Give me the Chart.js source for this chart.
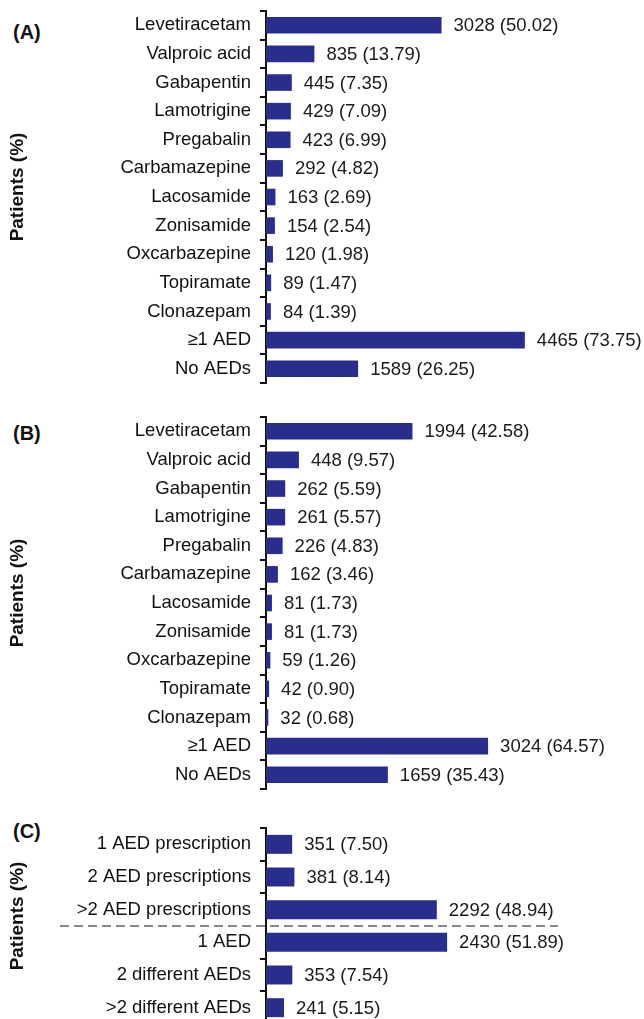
<!DOCTYPE html>
<html lang="en">
<head>
<meta charset="UTF-8">
<title>AED use by panel</title>
<script src="https://cdn.jsdelivr.net/npm/chart.js"></script>
<style>
  html, body { margin: 0; padding: 0; background: #fff; overflow: hidden; }
  #page {
    position: relative;
    width: 644px;
    height: 1019px;
    overflow: hidden;
    font-family: "Liberation Sans", Arial, sans-serif;
  }
  .panel { position: absolute; left: 0; width: 644px; }
  .tag {
    position: absolute;
    left: 13px;
    font-weight: bold;
    font-size: 20px;
    line-height: 20px;
    color: #111;
  }
</style>
</head>
<body>
<div id="page">
  <div class="tag" style="top:22px">(A)</div>
  <div class="tag" style="top:423px">(B)</div>
  <div class="tag" style="top:821px">(C)</div>
  <div class="panel" style="top:0;height:395px"><canvas id="chartA"></canvas></div>
  <div class="panel" style="top:400px;height:400px"><canvas id="chartB"></canvas></div>
  <div class="panel" style="top:805px;height:230px"><canvas id="chartC"></canvas></div>
</div>
<script>
const drugLabels = ["Levetiracetam", "Valproic acid", "Gabapentin", "Lamotrigine", "Pregabalin",
  "Carbamazepine", "Lacosamide", "Zonisamide", "Oxcarbazepine", "Topiramate", "Clonazepam",
  "\u22651 AED", "No AEDs"];

// panel A
const aCounts = [3028, 835, 445, 429, 423, 292, 163, 154, 120, 89, 84, 4465, 1589];
const aPct = [50.02, 13.79, 7.35, 7.09, 6.99, 4.82, 2.69, 2.54, 1.98, 1.47, 1.39, 73.75, 26.25];

// panel B
const bCounts = [1994, 448, 262, 261, 226, 162, 81, 81, 59, 42, 32, 3024, 1659];
const bPct = [42.58, 9.57, 5.59, 5.57, 4.83, 3.46, 1.73, 1.73, 1.26, 0.90, 0.68, 64.57, 35.43];

// panel C
const cLabels = ["1 AED prescription", "2 AED prescriptions", ">2 AED prescriptions",
  "1 AED", "2 different AEDs", ">2 different AEDs"];
const cCounts = [351, 381, 2292, 2430, 353, 241];
const cPct = [7.50, 8.14, 48.94, 51.89, 7.54, 5.15];

const FONT = "'Liberation Sans', Arial, sans-serif";
const BAR = "#292d8b";

function makeChart(id, labels, pct, counts, xMax, pad, splitAfter) {
  // "count (pct)" text right of each bar
  const valueLabels = {
    id: "valueLabels",
    afterDatasetsDraw(chart) {
      const ctx = chart.ctx;
      const meta = chart.getDatasetMeta(0);
      ctx.save();
      ctx.font = "18.5px " + FONT;
      ctx.fillStyle = "#1a1a1a";
      ctx.textAlign = "left";
      ctx.textBaseline = "middle";
      meta.data.forEach((bar, i) => {
        ctx.fillText(counts[i] + " (" + pct[i].toFixed(2) + ")", bar.x + 12, bar.y + 1);
      });
      ctx.restore();
    }
  };

  // rotated axis title, sits a little above the middle of the axis
  const yTitle = {
    id: "yTitle",
    afterDraw(chart) {
      const a = chart.chartArea;
      const ctx = chart.ctx;
      ctx.save();
      ctx.translate(18, (a.top + a.bottom) / 2 - 10);
      ctx.rotate(-Math.PI / 2);
      ctx.font = "bold 19px " + FONT;
      ctx.fillStyle = "#111";
      ctx.textAlign = "center";
      ctx.textBaseline = "middle";
      ctx.fillText("Patients (%)", 0, 0);
      ctx.restore();
    }
  };

  // dashed separator in panel C
  const separator = {
    id: "separator",
    afterDraw(chart) {
      if (splitAfter == null) return;
      const y = chart.scales.y;
      const yy = (y.getPixelForValue(splitAfter) + y.getPixelForValue(splitAfter + 1)) / 2;
      const ctx = chart.ctx;
      ctx.save();
      ctx.strokeStyle = "#888";
      ctx.lineWidth = 2;
      ctx.setLineDash([9, 5]);
      ctx.beginPath();
      ctx.moveTo(60, yy);
      ctx.lineTo(558, yy);
      ctx.stroke();
      ctx.restore();
    }
  };

  return new Chart(document.getElementById(id), {
    type: "bar",
    data: {
      labels: labels,
      datasets: [{
        data: pct,
        backgroundColor: BAR,
        barPercentage: 0.58,
        categoryPercentage: 1.0
      }]
    },
    options: {
      indexAxis: "y",
      responsive: true,
      maintainAspectRatio: false,
      animation: false,
      layout: { padding: pad },
      plugins: {
        legend: { display: false },
        tooltip: { enabled: false }
      },
      scales: {
        x: { display: false, min: 0, max: xMax },
        y: {
          afterFit: (s) => {
            s.width = 266;
            // let layout padding decide where the axis starts and ends
            s.paddingTop = 0;
            s.paddingBottom = 0;
          },
          grid: {
            offset: true,
            drawOnChartArea: false,
            drawTicks: true,
            tickLength: 6,
            color: "#111",
            lineWidth: 2
          },
          border: { display: true, color: "#111", width: 2 },
          ticks: {
            color: "#111",
            autoSkip: false,
            padding: 9,
            font: { family: FONT, size: 18.5 }
          }
        }
      }
    },
    plugins: [valueLabels, yTitle, separator]
  });
}

makeChart("chartA", drugLabels, aPct, aCounts, 107.7, { top: 11, bottom: 12, left: 0, right: 0 }, null);
makeChart("chartB", drugLabels, bPct, bCounts, 109.9, { top: 17, bottom: 11, left: 0, right: 0 }, null);
makeChart("chartC", cLabels, cPct, cCounts, 108.3, { top: 23, bottom: 11, left: 0, right: 0 }, 2);
</script>
</body>
</html>
